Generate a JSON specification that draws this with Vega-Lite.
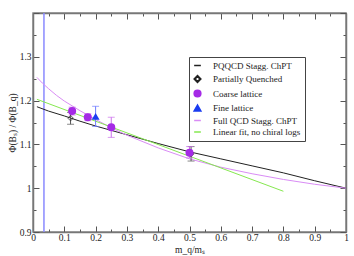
{
  "$schema": "https://vega.github.io/schema/vega-lite/v6.json",
  "width": 313,
  "height": 219,
  "autosize": "none",
  "padding": {"left": 33, "top": 13, "right": 8, "bottom": 24},
  "config": {
    "font": "Liberation Serif",
    "view": {"stroke": "#888888", "strokeWidth": 1.5},
    "axis": {
      "grid": false,
      "domainColor": "#777777",
      "domainWidth": 1.5,
      "tickColor": "#555555",
      "labelColor": "#222222",
      "titleColor": "#222222",
      "labelFontSize": 9.5,
      "labelFont": "Liberation Serif",
      "titleFont": "Liberation Serif",
      "titleFontSize": 9.5,
      "titleFontWeight": "normal"
    }
  },
  "datasets": {
    "curves": [
      {"series": "PQQCD Stagg. ChPT", "x": 0.0125, "y": 1.186},
      {"series": "PQQCD Stagg. ChPT", "x": 0.05, "y": 1.176},
      {"series": "PQQCD Stagg. ChPT", "x": 0.1, "y": 1.165},
      {"series": "PQQCD Stagg. ChPT", "x": 0.15, "y": 1.153},
      {"series": "PQQCD Stagg. ChPT", "x": 0.2, "y": 1.142},
      {"series": "PQQCD Stagg. ChPT", "x": 0.25, "y": 1.132},
      {"series": "PQQCD Stagg. ChPT", "x": 0.3, "y": 1.122},
      {"series": "PQQCD Stagg. ChPT", "x": 0.4, "y": 1.102},
      {"series": "PQQCD Stagg. ChPT", "x": 0.5, "y": 1.083},
      {"series": "PQQCD Stagg. ChPT", "x": 0.6, "y": 1.067},
      {"series": "PQQCD Stagg. ChPT", "x": 0.7, "y": 1.051},
      {"series": "PQQCD Stagg. ChPT", "x": 0.8, "y": 1.035},
      {"series": "PQQCD Stagg. ChPT", "x": 0.9, "y": 1.017},
      {"series": "PQQCD Stagg. ChPT", "x": 1.0, "y": 1.0},
      {"series": "Full QCD Stagg. ChPT", "x": 0.0125, "y": 1.253},
      {"series": "Full QCD Stagg. ChPT", "x": 0.03, "y": 1.24},
      {"series": "Full QCD Stagg. ChPT", "x": 0.05, "y": 1.227},
      {"series": "Full QCD Stagg. ChPT", "x": 0.075, "y": 1.212},
      {"series": "Full QCD Stagg. ChPT", "x": 0.1, "y": 1.199},
      {"series": "Full QCD Stagg. ChPT", "x": 0.15, "y": 1.177},
      {"series": "Full QCD Stagg. ChPT", "x": 0.2, "y": 1.157},
      {"series": "Full QCD Stagg. ChPT", "x": 0.25, "y": 1.138},
      {"series": "Full QCD Stagg. ChPT", "x": 0.3, "y": 1.121},
      {"series": "Full QCD Stagg. ChPT", "x": 0.4, "y": 1.092},
      {"series": "Full QCD Stagg. ChPT", "x": 0.5, "y": 1.067},
      {"series": "Full QCD Stagg. ChPT", "x": 0.6, "y": 1.048},
      {"series": "Full QCD Stagg. ChPT", "x": 0.7, "y": 1.033},
      {"series": "Full QCD Stagg. ChPT", "x": 0.8, "y": 1.02},
      {"series": "Full QCD Stagg. ChPT", "x": 0.9, "y": 1.009},
      {"series": "Full QCD Stagg. ChPT", "x": 1.0, "y": 1.0},
      {"series": "Linear fit, no chiral logs", "x": 0.0125, "y": 1.203},
      {"series": "Linear fit, no chiral logs", "x": 0.8, "y": 0.993}
    ],
    "points": [
      {"series": "Partially Quenched", "x": 0.12, "y": 1.16, "lo": 1.146, "hi": 1.173},
      {"series": "Partially Quenched", "x": 0.505, "y": 1.078, "lo": 1.062, "hi": 1.095},
      {"series": "Coarse lattice", "x": 0.125, "y": 1.176, "lo": 1.167, "hi": 1.185},
      {"series": "Coarse lattice", "x": 0.175, "y": 1.162, "lo": 1.154, "hi": 1.17},
      {"series": "Coarse lattice", "x": 0.25, "y": 1.139, "lo": 1.116, "hi": 1.162},
      {"series": "Coarse lattice", "x": 0.5, "y": 1.081, "lo": 1.069, "hi": 1.095},
      {"series": "Fine lattice", "x": 0.2, "y": 1.164, "lo": 1.141, "hi": 1.187}
    ],
    "vline": [{"x": 0.035}]
  },
  "layer": [
    {
      "data": {"name": "vline"},
      "mark": {"type": "rule", "color": "#8a8aff", "strokeWidth": 1.5},
      "encoding": {
        "x": {"field": "x", "type": "quantitative", "axis": null, "scale": {"domain": [0, 1], "nice": false, "zero": false}}
      }
    },
    {
      "data": {"name": "curves"},
      "mark": {"type": "line", "strokeWidth": 1, "clip": true},
      "encoding": {
        "x": {
          "field": "x", "type": "quantitative",
          "scale": {"domain": [0, 1], "nice": false, "zero": false},
          "axis": {
            "orient": "bottom",
            "title": "m_q/mₛ",
            "titlePadding": 0,
            "values": [0, 0.05, 0.1, 0.15, 0.2, 0.25, 0.3, 0.35, 0.4, 0.45, 0.5, 0.55, 0.6, 0.65, 0.7, 0.75, 0.8, 0.85, 0.9, 0.95, 1],
            "labelExpr": "abs(datum.value*10 - round(datum.value*10)) < 0.001 ? format(datum.value, '.1~f') : ''",
            "tickSize": {"condition": {"test": "abs(datum.value*10 - round(datum.value*10)) < 0.001", "value": -6}, "value": -3},
            "labelPadding": 6,
            "labelFlush": false,
            "labelOverlap": false
          }
        },
        "y": {
          "field": "y", "type": "quantitative",
          "scale": {"domain": [0.9, 1.4], "nice": false, "zero": false},
          "axis": {
            "orient": "left",
            "title": "Φ(Bₛ) / Φ(B_q)",
            "titlePadding": 2,
            "values": [0.9, 0.95, 1, 1.05, 1.1, 1.15, 1.2, 1.25, 1.3, 1.35, 1.4],
            "labelExpr": "abs(datum.value*10 - round(datum.value*10)) < 0.001 && datum.value < 1.35 ? format(datum.value, '.1~f') : ''",
            "tickSize": {"condition": {"test": "abs(datum.value*10 - round(datum.value*10)) < 0.001", "value": -6}, "value": -3},
            "labelPadding": 8,
            "labelFlush": false,
            "labelOverlap": false
          }
        },
        "color": {"field": "series", "type": "nominal"}
      }
    },
    {
      "data": {"name": "points"},
      "mark": {"type": "rule", "strokeWidth": 1},
      "encoding": {
        "x": {"field": "x", "type": "quantitative", "axis": null, "scale": {"domain": [0, 1], "nice": false, "zero": false}},
        "y": {"field": "lo", "type": "quantitative", "axis": null, "scale": {"domain": [0.9, 1.4], "nice": false, "zero": false}},
        "y2": {"field": "hi"},
        "stroke": {
          "field": "series", "type": "nominal", "legend": null,
          "scale": {"domain": ["Partially Quenched", "Coarse lattice", "Fine lattice"], "range": ["#555555", "#cc70ec", "#6f7cff"]}
        }
      }
    },
    {
      "data": {"name": "points"},
      "transform": [{"fold": ["lo", "hi"], "as": ["end", "v"]}],
      "mark": {"type": "tick", "orient": "horizontal", "size": 7, "thickness": 1},
      "encoding": {
        "x": {"field": "x", "type": "quantitative", "axis": null, "scale": {"domain": [0, 1], "nice": false, "zero": false}},
        "y": {"field": "v", "type": "quantitative", "axis": null, "scale": {"domain": [0.9, 1.4], "nice": false, "zero": false}},
        "fill": {
          "field": "series", "type": "nominal", "legend": null,
          "scale": {"domain": ["Partially Quenched", "Coarse lattice", "Fine lattice"], "range": ["#555555", "#cc70ec", "#6f7cff"]}
        }
      }
    },
    {
      "data": {"name": "points"},
      "transform": [{"filter": "datum.series === 'Partially Quenched'"}],
      "mark": {"type": "point", "shape": "diamond", "filled": false, "size": 30, "strokeWidth": 1, "color": "#222222"},
      "encoding": {
        "x": {"field": "x", "type": "quantitative", "axis": null, "scale": {"domain": [0, 1], "nice": false, "zero": false}},
        "y": {"field": "y", "type": "quantitative", "axis": null, "scale": {"domain": [0.9, 1.4], "nice": false, "zero": false}}
      }
    },
    {
      "data": {"name": "points"},
      "transform": [{"filter": "datum.series !== 'Partially Quenched'"}],
      "mark": {"type": "point", "filled": true, "size": 64, "opacity": 1},
      "encoding": {
        "x": {
          "field": "x", "type": "quantitative",
          "scale": {"domain": [0, 1], "nice": false, "zero": false},
          "axis": {
            "orient": "top", "title": null, "labels": false,
            "values": [0, 0.05, 0.1, 0.15, 0.2, 0.25, 0.3, 0.35, 0.4, 0.45, 0.5, 0.55, 0.6, 0.65, 0.7, 0.75, 0.8, 0.85, 0.9, 0.95, 1],
            "tickSize": {"condition": {"test": "abs(datum.value*10 - round(datum.value*10)) < 0.001", "value": -6}, "value": -3}
          }
        },
        "y": {
          "field": "y", "type": "quantitative",
          "scale": {"domain": [0.9, 1.4], "nice": false, "zero": false},
          "axis": {
            "orient": "right", "title": null, "labels": false,
            "values": [0.9, 0.95, 1, 1.05, 1.1, 1.15, 1.2, 1.25, 1.3, 1.35, 1.4],
            "tickSize": {"condition": {"test": "abs(datum.value*10 - round(datum.value*10)) < 0.001", "value": -6}, "value": -3}
          }
        },
        "color": {
          "field": "series", "type": "nominal",
          "scale": {
            "domain": ["PQQCD Stagg. ChPT", "Partially Quenched", "Coarse lattice", "Fine lattice", "Full QCD Stagg. ChPT", "Linear fit, no chiral logs"],
            "range": ["#222222", "#222222", "#a52ae6", "#1a3cf0", "#d98cf5", "#86e850"]
          },
          "legend": {
            "title": null,
            "orient": "none",
            "legendX": 156,
            "legendY": 44,
            "strokeColor": "#444444",
            "fillColor": "white",
            "padding": 4,
            "labelFont": "Liberation Serif",
            "labelFontSize": 9,
            "labelColor": "#222222",
            "labelOffset": 11,
            "symbolSize": 45,
            "rowPadding": 1.5,
            "encode": {
              "symbols": {
                "update": {
                  "stroke": {"signal": "scale('color', datum.value)"},
                  "strokeWidth": {"value": 1}
                }
              }
            }
          }
        },
        "shape": {
          "field": "series", "type": "nominal",
          "scale": {
            "domain": ["PQQCD Stagg. ChPT", "Partially Quenched", "Coarse lattice", "Fine lattice", "Full QCD Stagg. ChPT", "Linear fit, no chiral logs"],
            "range": ["stroke", "M0,-1L1,0L0,1L-1,0Z M0,-0.72L-0.72,0L0,0.72L0.72,0Z", "circle", "triangle-up", "stroke", "stroke"]
          },
          "legend": {
            "title": null,
            "orient": "none",
            "legendX": 156,
            "legendY": 44
          }
        }
      }
    }
  ],
  "resolve": {"axis": {"x": "independent", "y": "independent"}}
}
